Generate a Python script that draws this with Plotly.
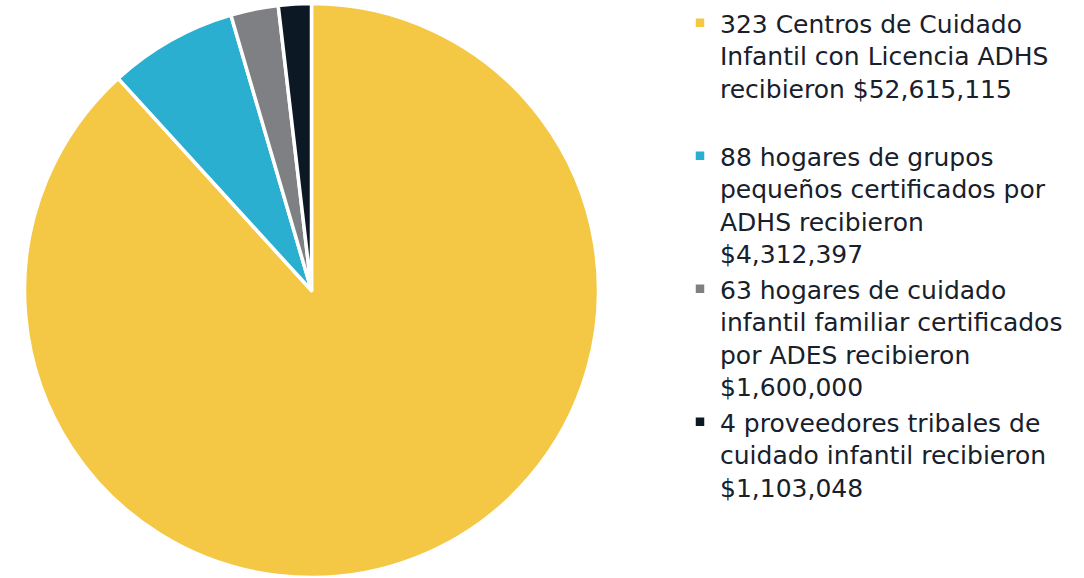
import plotly.graph_objects as go

labels = [
    "323 Centros de Cuidado<br>Infantil con Licencia ADHS<br>recibieron $52,615,115<br> ",
    "88 hogares de grupos<br>pequeños certificados por<br>ADHS recibieron<br>$4,312,397",
    "63 hogares de cuidado<br>infantil familiar certificados<br>por ADES recibieron<br>$1,600,000",
    "4 proveedores tribales de<br>cuidado infantil recibieron<br>$1,103,048",
]
values = [52615115, 4312397, 1600000, 1103048]
colors = ["#F4C845", "#2AAFD0", "#7F8084", "#0C1824"]

W, H = 1084, 578
cx, cy, r = 311.5, 290.5, 287

fig = go.Figure(go.Pie(
    labels=labels,
    values=values,
    sort=False,
    direction="clockwise",
    rotation=0,
    textinfo="none",
    hoverinfo="label+value",
    marker=dict(colors=colors, line=dict(color="white", width=3.5)),
    domain=dict(x=[(cx - r) / W, (cx + r) / W], y=[(H - cy - r) / H, (H - cy + r) / H]),
))

fig.update_layout(
    width=W, height=H,
    margin=dict(l=0, r=0, t=0, b=0),
    paper_bgcolor="white",
    plot_bgcolor="white",
    font=dict(family="DejaVu Sans", color="#17202B"),
    legend=dict(
        x=(720 - 40) / W, xanchor="left",
        y=1.0, yanchor="top",
        font=dict(size=25, family="DejaVu Sans", color="#17202B"),
        valign="top",
        bgcolor="rgba(0,0,0,0)",
    ),
    showlegend=True,
)

fig.write_html("out.html")
